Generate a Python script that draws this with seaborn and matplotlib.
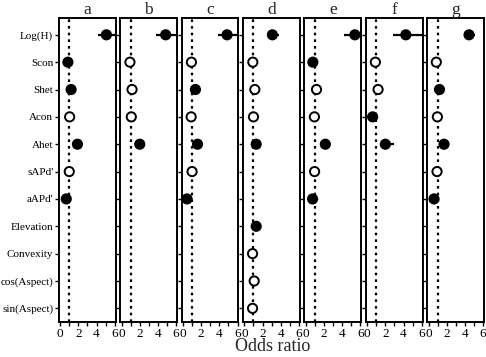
import numpy as np
import pandas as pd
import seaborn as sns
import matplotlib.pyplot as plt
from matplotlib.ticker import MultipleLocator

variables = ["Log(H)", "Scon", "Shet", "Acon", "Ahet", "sAPd'", "aAPd'",
             "Elevation", "Convexity", "cos(Aspect)", "sin(Aspect)"]
panels = ["a", "b", "c", "d", "e", "f", "g"]
N = None

# odds ratio estimates per panel (None = not in model)
odds = {
    "a": [5.08, 0.85, 1.20, 1.04, 1.90, 1.00, 0.67, N, N, N, N],
    "b": [4.85, 0.92, 1.15, 1.07, 2.00, N, N, N, N, N, N],
    "c": [4.85, 0.93, 1.37, 0.90, 1.60, 1.00, 0.45, N, N, N, N],
    "d": [3.08, 0.93, 1.15, 1.00, 1.30, N, N, 1.30, 0.90, 1.08, 0.90],
    "e": [5.40, 0.78, 1.18, 0.95, 2.15, 0.97, 0.75, N, N, N, N],
    "f": [4.25, 0.90, 1.20, 0.60, 2.00, N, N, N, N, N, N],
    "g": [4.45, 0.85, 1.20, 0.97, 1.70, 0.93, 0.60, N, N, N, N],
}
lower = {
    "a": [4.20, 0.85, 1.15, 1.00, 1.80, 0.98, 0.63, N, N, N, N],
    "b": [3.80, 0.90, 1.12, 1.04, 1.75, N, N, N, N, N, N],
    "c": [3.80, 0.90, 1.30, 0.88, 1.50, 0.98, 0.42, N, N, N, N],
    "d": [2.70, 0.90, 1.12, 0.97, 1.20, N, N, 1.20, 0.88, 1.05, 0.88],
    "e": [4.25, 0.75, 1.15, 0.92, 1.85, 0.95, 0.70, N, N, N, N],
    "f": [2.85, 0.88, 1.17, 0.55, 1.55, N, N, N, N, N, N],
    "g": [4.00, 0.83, 1.15, 0.95, 1.60, 0.90, 0.55, N, N, N, N],
}
upper = {
    "a": [6.50, 0.90, 1.25, 1.08, 2.00, 1.02, 0.72, N, N, N, N],
    "b": [6.50, 0.95, 1.18, 1.10, 2.30, N, N, N, N, N, N],
    "c": [6.50, 0.96, 1.45, 0.93, 1.70, 1.02, 0.50, N, N, N, N],
    "d": [3.80, 0.96, 1.18, 1.03, 1.40, N, N, 1.40, 0.93, 1.12, 0.93],
    "e": [6.50, 0.82, 1.22, 0.98, 2.55, 1.00, 0.80, N, N, N, N],
    "f": [6.50, 0.93, 1.24, 0.65, 2.95, N, N, N, N, N, N],
    "g": [5.10, 0.88, 1.25, 1.00, 1.80, 0.96, 0.65, N, N, N, N],
}
# significant effects drawn filled
signif = {
    "a": [1, 1, 1, 0, 1, 0, 1, 0, 0, 0, 0],
    "b": [1, 0, 0, 0, 1, 0, 0, 0, 0, 0, 0],
    "c": [1, 0, 1, 0, 1, 0, 1, 0, 0, 0, 0],
    "d": [1, 0, 0, 0, 1, 0, 0, 1, 0, 0, 0],
    "e": [1, 1, 0, 0, 1, 0, 1, 0, 0, 0, 0],
    "f": [1, 0, 0, 1, 1, 0, 0, 0, 0, 0, 0],
    "g": [1, 0, 1, 0, 1, 0, 1, 0, 0, 0, 0],
}

rows = []
for p in panels:
    for i, v in enumerate(variables):
        if odds[p][i] is None:
            continue
        rows.append({"panel": p, "var": v, "pos": i, "OR": odds[p][i],
                     "lo": lower[p][i], "hi": upper[p][i],
                     "sig": "yes" if signif[p][i] else "no"})
df = pd.DataFrame(rows)

sns.set_theme(style="ticks")
plt.rcParams["font.family"] = ["Liberation Serif", "DejaVu Serif"]
plt.rcParams["xtick.direction"] = "out"
plt.rcParams["ytick.direction"] = "out"

g = sns.FacetGrid(df, col="panel", col_order=panels, sharex=True, sharey=True,
                  height=3.57, aspect=(4.86 / 7) / 3.57, despine=False)


def draw(data, **kws):
    ax = plt.gca()
    ax.axvline(1, color="black", linestyle=(0, (1.2, 1.8)), lw=1.6, zorder=1)
    ax.hlines(data["pos"], data["lo"], data["hi"], color="black", lw=1.6, zorder=2)
    sns.scatterplot(data=data, x="OR", y="pos", hue="sig",
                    palette={"yes": "black", "no": "white"},
                    edgecolor="black", linewidth=1.4, s=44, legend=False,
                    zorder=3, ax=ax)


g.map_dataframe(draw)
g.set_titles("{col_name}", size=12.5, pad=2)
g.set_axis_labels("", "")

for ax in g.axes.flat:
    ax.set_xlim(-0.15, 6.1)
    ax.set_ylim(10.5, -0.62)
    ax.xaxis.set_major_locator(MultipleLocator(2))
    ax.xaxis.set_minor_locator(MultipleLocator(1))
    ax.set_yticks(range(len(variables)))
    ax.tick_params(axis="both", which="both", length=3, width=1, colors="black",
                   labelsize=8, pad=1)
    ax.tick_params(axis="x", which="major", labelsize=9.5)
    for s in ax.spines.values():
        s.set_linewidth(1.4)
        s.set_color("black")
    ax.set_xlabel("")
    ax.set_ylabel("")

g.axes.flat[0].set_yticklabels(variables)

g.figure.set_size_inches(4.86, 3.57)
g.figure.subplots_adjust(left=0.121, right=0.996, top=0.950, bottom=0.098, wspace=0.08)
g.figure.text(0.56, 0.005, "Odds ratio", ha="center", va="bottom", fontsize=13)

g.figure.savefig("out.png", dpi=100)
